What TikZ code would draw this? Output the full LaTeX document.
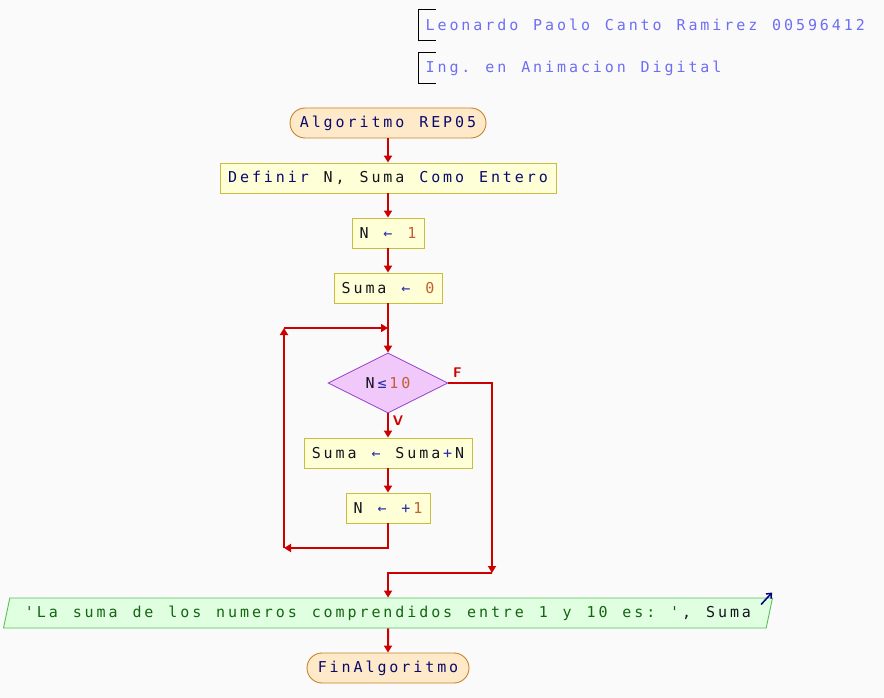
\documentclass[tikz,border=0pt]{standalone}
\usepackage{fontspec}
\usetikzlibrary{arrows.meta,shapes.geometric}
\defaultfontfeatures{}
\newfontfamily\pseFont{DejaVu Sans Mono}
\definecolor{pseBg}{RGB}{250,250,250}
\definecolor{pseKw}{RGB}{10,10,110}
\definecolor{pseId}{RGB}{20,20,30}
\definecolor{pseOp}{RGB}{40,40,170}
\definecolor{pseNum}{RGB}{195,95,50}
\definecolor{pseStr}{RGB}{20,100,20}
\definecolor{pseHead}{RGB}{110,110,245}
\definecolor{pseFlow}{RGB}{204,0,0}
\definecolor{procFill}{RGB}{255,255,215}
\definecolor{procLine}{RGB}{200,190,60}
\definecolor{termFill}{RGB}{254,234,200}
\definecolor{termLine}{RGB}{200,130,40}
\definecolor{decFill}{RGB}{240,200,250}
\definecolor{decLine}{RGB}{150,60,200}
\definecolor{outFill}{RGB}{224,255,224}
\definecolor{outLine}{RGB}{90,190,90}
\definecolor{outMark}{RGB}{0,0,128}
% one fixed cell per character, as in the PSeInt editor
\ExplSyntaxOn
\NewDocumentCommand \pse { O{pseId} m }
  {
    \group_begin:
    \color{#1}
    \str_map_inline:nn {#2} { \makebox[11.95pt][c]{##1} }
    \group_end:
  }
\ExplSyntaxOff

\begin{document}
\begin{tikzpicture}[x=1pt, y=-1pt]
    \tikzset{pseText/.style={font=\pseFont\fontsize{15}{17}\selectfont,
            text=pseId, minimum height=30, inner xsep=0pt, inner ysep=0pt},
        headText/.style={pseText, anchor=west, inner xsep=6pt},
        bracket/.style={draw=black, line width=1pt},
        terminal/.style={pseText, draw=termLine, fill=termFill,
            line width=0.9pt, rounded corners=15pt},
        proc/.style={pseText, draw=procLine, fill=procFill, line width=0.9pt},
        decision/.style={pseText, shape=diamond, aspect=2, draw=decLine,
            fill=decFill, line width=0.8pt, minimum width=120, minimum height=60},
        output/.style={pseText, shape=trapezium, trapezium left angle=66.6,
            trapezium right angle=113.4, trapezium stretches body,
            draw=outLine, fill=outFill, line width=0.9pt},
        flow/.style={draw=pseFlow, line width=2pt,
            -{Triangle[width=8pt, length=7pt]}},
        branch/.style={text=pseFlow, font=\sffamily\bfseries\fontsize{14}{15}\selectfont,
            inner sep=0pt},
        outArrow/.style={draw=outMark, line width=1.5pt,
            -{Straight Barb[width=7pt, length=4pt]}}
    }
    \fill[pseBg] (0,0) rectangle (884,698);
    \useasboundingbox (0,0) rectangle (884,698);
    % header
    \node [headText] (author) at (418,25) {\pse[pseHead]{Leonardo Paolo Canto Ramirez 00596412}};
    \node [headText] (course) at (418,68) {\pse[pseHead]{Ing. en Animacion Digital}};
    \foreach \head in {author, course} {
        \draw [bracket] ([xshift=18]\head.north west) -| (\head.south west) -- ++(18,0);
    }
    % flowchart nodes
    \node [terminal, minimum width=196] (start) at (388,123) {\pse[pseKw]{Algoritmo REP05}};
    \node [proc, minimum width=336] (def) at (388,178)
        {\pse[pseKw]{Definir}\pse{ N, Suma }\pse[pseKw]{Como Entero}};
    \node [proc, minimum width=72] (n1) at (388,233)
        {\pse{N }\pse[pseOp]{←}\pse{ }\pse[pseNum]{1}};
    \node [proc, minimum width=108] (sum0) at (388,288)
        {\pse{Suma }\pse[pseOp]{←}\pse{ }\pse[pseNum]{0}};
    \node [decision] (dec) at (388,383)
        {\pse{N}\pse[pseOp]{≤}\pse[pseNum]{10}};
    \node [proc, minimum width=168] (sumN) at (388,453)
        {\pse{Suma }\pse[pseOp]{←}\pse{ Suma}\pse[pseOp]{+}\pse{N}};
    \node [proc, minimum width=84] (inc) at (388,508)
        {\pse{N }\pse[pseOp]{←}\pse{ }\pse[pseOp]{+}\pse[pseNum]{1}};
    \node [output, minimum width=769] (out) at (388,613)
        {\pse[pseStr]{'La suma de los numeros comprendidos entre 1 y 10 es: '}\pse{, Suma}};
    \node [terminal, minimum width=162] (fin) at (388,668) {\pse[pseKw]{FinAlgoritmo}};
    % branch labels
    \node [branch] (fLabel) at ([shift={(9,-10)}]dec.east) {F};
    \node [branch] (vLabel) at ([shift={(10,7)}]dec.south) {V};
    % straight flow
    \foreach \from/\to in {start/def, def/n1, n1/sum0, dec/sumN, sumN/inc, out/fin} {
        \draw [flow] (\from) -- (\to);
    }
    \draw [flow] (sum0) -- (dec);
    % loop back
    \coordinate (loopJoin) at (388,328);
    \coordinate (loopTop) at (284,328);
    \coordinate (loopBot) at (284,548);
    \draw [flow] (inc) |- (loopBot);
    \draw [flow] (loopBot) -- (loopTop);
    \draw [flow] (loopTop) -- (loopJoin);
    % false branch
    \coordinate (fDown) at (492,573);
    \draw [flow] (dec.east) -| (fDown);
    \draw [flow] (fDown) -| (out.north);
    % output mark
    \draw [outArrow] ([shift={(-12,7)}]out.top right corner) -- ++(11,-12);
\end{tikzpicture}
\end{document}
